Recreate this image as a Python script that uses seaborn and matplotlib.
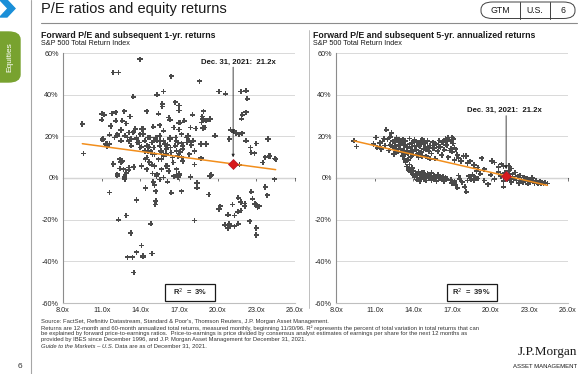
import matplotlib
matplotlib.use("Agg")
import matplotlib.pyplot as plt
import numpy as np
import pandas as pd
import seaborn as sns
from matplotlib.patches import FancyBboxPatch, Polygon, Rectangle
from matplotlib.lines import Line2D
from matplotlib.ticker import FuncFormatter

# ---- data (forward P/E, subsequent return %) ----
pe_1yr = [
    9.5, 9.6,
    11.0, 11.0, 11.2, 11.05, 11.1, 11.3, 11.4, 11.4, 11.6, 11.6, 11.7, 11.8, 12.1, 12.1,
    11.9, 11.9, 11.9, 12.3, 12.2, 12.0, 12.2, 12.2, 12.4, 12.2, 11.6, 12.3, 12.2, 12.4,
    12.5, 12.5, 12.5, 12.6, 12.6, 12.7, 12.75, 12.75, 12.8, 12.8, 12.9, 12.9, 12.9, 12.9,
    13.0, 13.0, 13.1, 13.1, 13.1, 13.1, 13.2, 13.25, 13.3, 13.3, 13.4, 13.45, 13.45, 13.5,
    13.5, 13.5, 13.6, 13.7, 13.7, 13.7, 13.7, 13.75, 13.9, 13.97,
    14.0, 14.0, 14.1, 14.1, 14.1, 14.1, 14.2, 14.2, 14.2, 14.2, 14.35, 14.35, 14.4, 14.4,
    14.5, 14.5, 14.5, 14.5, 14.6, 14.6, 14.65, 14.7, 14.75, 14.8, 14.8, 14.9, 14.9, 14.9,
    14.95, 14.95,
    15.0, 15.0, 15.05, 15.05, 15.1, 15.1, 15.1, 15.15, 15.2, 15.2, 15.2, 15.25, 15.3, 15.3,
    15.3, 15.4, 15.4, 15.5, 15.5, 15.5, 15.5, 15.55, 15.6, 15.65, 15.65, 15.65, 15.7, 15.7,
    15.8, 15.8, 15.8, 15.8, 15.8, 15.9,
    16.0, 16.0, 16.0, 16.1, 16.1, 16.1, 16.2, 16.2, 16.3, 16.3, 16.3, 16.35, 16.4, 16.4,
    16.4, 16.5, 16.55, 16.6, 16.6, 16.7, 16.7, 16.75, 16.8, 16.8, 16.8, 16.8, 16.9, 16.9, 16.9,
    17.0, 17.0, 17.0, 17.0, 17.0, 17.05, 17.1, 17.1, 17.2, 17.2, 17.2, 17.2, 17.3, 17.3,
    17.3, 17.4, 17.6, 17.6, 17.7, 17.8, 17.8, 17.9, 17.9, 17.95,
    18.05, 18.1, 18.2, 18.2, 18.2, 18.3, 18.4, 18.4, 18.6, 18.7, 18.7, 18.75, 18.8, 18.85,
    18.85, 18.9, 19.0, 19.1, 19.1, 19.3, 19.4, 19.4, 19.5, 19.8,
    20.1, 20.1, 20.2, 20.55, 20.6, 20.8, 20.8, 20.9, 20.9, 21.0, 21.0, 21.15, 21.25, 21.3,
    21.3, 21.4, 21.55, 21.6, 21.6, 21.65, 21.7, 21.8, 21.8, 21.8, 21.85, 21.9, 21.9,
    22.1, 22.1, 22.2, 22.2, 22.2, 22.3, 22.5, 22.55, 22.6, 22.6, 22.7, 22.85, 22.9, 23.0,
    23.0, 23.0, 23.0, 23.1, 23.2, 23.5, 23.7, 23.7, 23.85, 23.9, 24.0, 24.05, 24.4, 24.45, 24.5,
]
ret_1yr = [
    25.9, 11.7,
    30.8, 28.0, 30.4, 18.4, 18.7, 16.3, 15.2, 16.3, 16.3, 20.8, 25.0, 31.0, 31.6, 27.5,
    6.9, 6.6, 50.6, 50.6, 1.3, 19.5, 20.3, 21.0, 9.0, 1.8, -6.9, -20.0, 1.1, 4.5,
    23.0, 17.9, 7.7, 8.2, 27.5, 4.2, 32.0, 0.5, -0.5, 20.3, 26.2, 2.6, 2.3, -18.0,
    19.5, -38.0, 17.6, 4.0, 5.0, 21.9, 29.5, -26.4, 15.5, 18.7, -38.0, 39.0, 21.9, 5.3,
    22.2, -45.4, 23.5, 18.7, 19.5, -35.6, -10.6, 17.0, 17.0, 57.0,
    21.0, 14.6, 15.0, 23.5, 5.8, -32.4, -37.3, -37.8, 23.5, 21.1, 17.9, 13.0, 9.0, -4.8,
    32.0, 9.8, 15.5, 4.2, 19.5, 13.0, 15.0, 7.7, 19.5, 12.8, -22.0, 6.3, 17.0, -36.2,
    11.4, 2.1,
    24.6, -1.9, 17.9, 14.6, 11.4, 5.8, -3.5, -12.7, 19.5, -11.0, -6.4, 1.0, 40.0, 17.9,
    1.8, 30.8, 9.0, 25.3, 20.3, 15.5, -0.7, 17.9, 13.0, 9.0, 12.2, 4.2, 35.6, 34.3,
    41.5, 22.7, 10.6, 17.9, 0.3, 16.3,
    11.4, 5.8, 13.9, 5.8, -1.8, 15.8, 29.0, 3.4, 28.0, 19.5, 18.7, 14.7, 48.8, -7.1,
    12.2, 9.8, 7.4, 24.3, 0.8, 36.4, 15.5, 19.5, 17.9, 13.0, 4.2, 1.5, 10.6, 17.0, 0.2,
    34.8, 32.4, 26.5, 23.3, 2.0, 1.2, 26.7, 12.5, 21.0, 16.7, -6.3, 10.0, 15.5, 8.2,
    14.0, 27.5, 19.5, 17.0, 20.3, 11.4, 17.9, 24.3, 0.5, 15.8,
    30.4, 17.9, 13.0, 6.5, -20.4, 23.8, -4.7, -2.3, 46.5, 9.5, 16.3, 26.7, 29.5, 24.0,
    28.3, 32.0, 24.3, 27.5, 16.3, -7.9, 1.0, 28.3, 1.4, 20.3,
    41.5, -15.0, -13.5, -22.4, 40.4, -17.6, -24.0, -22.0, 18.7, -23.0, 23.2, -12.7, 22.2, -23.2,
    -18.0, 21.6, -16.2, -9.5, -22.0, 21.0, 6.3, 41.5, -15.6, -11.5, 28.4, 30.3, 21.5,
    -12.3, -13.5, 41.9, 31.6, 17.9, 38.0, -20.8, 14.7, -6.6, 12.3, -10.0, 11.9, -12.5, 16.6,
    -13.0, -24.0, -27.4, -14.0, -13.5, 7.4, 10.0, -4.3, -8.3, 18.7, 10.6, 10.6, -0.6, 9.3, 9.0,
]

pe_5yr = [
    9.4, 9.6, 10.9, 11.1, 11.2, 11.4, 11.5, 11.6, 11.7, 11.8, 11.9, 12.0, 12.1, 12.2, 12.2,
    12.3, 12.4, 12.4, 12.5, 12.6, 12.6, 12.7, 12.7, 12.8, 12.9, 12.9,
    13.0, 13.0, 13.1, 13.1, 13.2, 13.2, 13.3, 13.3, 13.4, 13.4, 13.5, 13.5, 13.6, 13.6,
    13.7, 13.7, 13.8, 13.8, 13.9, 13.9, 14.0, 14.0, 14.1, 14.1, 14.2, 14.3, 14.3, 14.4,
    14.4, 14.5, 14.5, 14.6, 14.6, 14.7, 14.7, 14.8, 14.8, 14.9, 15.0, 15.0, 15.1, 15.1,
    15.2, 15.3, 15.3, 15.4, 15.5, 15.5, 15.6, 15.7, 15.7, 15.8, 15.9, 16.0, 16.0, 16.1,
    16.2, 16.2, 16.3, 16.4, 16.5, 16.5, 16.6, 16.6, 16.7, 16.7, 16.8, 16.8, 16.9, 16.9,
    17.0, 17.0, 17.1, 17.1, 17.2, 17.2, 17.3,
    17.4, 17.5, 17.7, 17.9, 18.1, 18.2, 18.4, 18.7, 19.3, 19.5, 20.1, 20.3, 20.6, 20.85,
    21.0, 21.4, 21.6, 19.0, 18.9,
    13.5, 13.6, 13.7, 13.8, 13.9, 13.4, 13.3,
    14.0, 14.0, 14.1, 14.2, 14.3, 14.3, 14.4, 14.5, 14.5, 14.6, 14.7, 14.7, 14.8, 14.8,
    14.9, 15.0, 15.0, 15.1, 15.2, 15.2, 15.3, 15.4, 15.4, 15.5, 15.6, 15.6, 15.7, 15.8,
    15.8, 15.9, 16.0, 16.1, 16.2, 16.3, 16.4, 16.5, 16.6,
    16.9, 17.0, 17.2, 17.3, 17.4, 17.5, 17.6, 17.8, 18.0, 18.1, 18.2, 18.3, 18.5, 18.6,
    18.7, 18.8, 19.0, 19.2, 19.5, 19.8, 20.0, 20.3,
    20.6, 20.8, 21.0, 21.0, 21.1, 21.3, 21.4, 21.5, 21.6, 21.7, 21.8, 21.9, 22.0, 22.1,
    22.2, 22.3, 22.4, 22.5, 22.6, 22.7, 22.8, 22.9, 23.0, 23.1, 23.2, 23.3, 23.4, 23.5,
    23.6, 23.7, 23.8, 23.9, 24.0, 24.1, 24.2, 24.4,
]
ret_5yr = [
    17.9, 15.1, 16.3, 19.5, 14.5, 16.8, 13.9, 17.5, 19.0, 15.6, 23.2, 18.6, 13.2, 16.0, 19.8,
    21.6, 14.8, 17.6, 11.5, 17.3, 14.0, 15.2, 19.2, 12.6, 18.4, 15.8,
    14.0, 16.9, 16.5, 12.2, 10.6, 18.6, 13.2, 15.8, 17.8, 11.6, 15.0, 13.2, 12.0, 8.8,
    18.9, 16.2, 14.3, 10.2, 16.7, 12.8, 11.2, 17.6, 18.2, 15.2, 13.6, 17.0, 11.4, 9.8,
    15.6, 15.4, 12.0, 12.4, 17.6, 18.6, 10.6, 14.0, 16.2, 16.8, 10.4, 13.6, 17.9, 15.0,
    13.0, 15.6, 9.2, 11.8, 17.2, 14.2, 14.4, 9.2, 16.6, 16.2, 12.8, 18.0, 15.0, 14.9,
    11.0, 17.0, 17.4, 13.6, 19.0, 16.0, 15.8, 18.4, 10.0, 19.4, 18.4, 13.2, 14.2, 17.6,
    19.5, 12.6, 16.6, 18.8, 8.6, 14.6, 13.8,
    11.2, 9.6, 8.2, 10.6, 10.6, 7.1, 8.0, 6.2, 9.5, 4.2, 8.2, 7.4, 5.4, 6.6,
    5.8, 6.0, 4.6, 5.0, 3.2,
    5.5, 4.0, 6.5, 2.8, 4.8, 7.6, 9.0,
    1.5, 3.5, 0.5, 2.2, -0.8, 1.2, 3.0, 0.0, -1.6, 1.8, 0.6, 2.8, -0.5, 2.6,
    1.0, -1.2, 0.3, 2.0, -0.3, 1.4, 0.6, -1.0, 2.4, 0.2, 1.2, -0.6, 0.8, -1.4,
    0.4, 1.6, -0.2, 0.9, -0.8, 0.5, -1.5, 0.2, -0.4,
    -0.8, -2.5, -1.5, -3.2, -4.7, 1.2, -0.5, -2.0, -4.2, -6.6, -1.2, 0.8, -0.5, 1.5,
    -1.0, 0.4, -0.2, 2.0, -1.2, -3.0, 1.5, -0.5,
    3.0, 1.0, -1.4, -4.2, 2.5, -0.8, 3.4, 0.5, -2.0, 1.8, -0.4, 2.6, -1.2, 0.8,
    -2.4, 1.2, -0.8, -2.0, 0.4, -1.6, -0.2, -2.8, -1.0, -2.2, 0.0, -1.8, -2.6, -1.2,
    -2.0, -2.8, -1.6, -2.4, -2.0, -2.8, -2.2, -2.6,
]

current_pe = 21.2
r2_1yr = 3
r2_5yr = 39
x_ticks = [8, 11, 14, 17, 20, 23, 26]
y_ticks = [-60, -40, -20, 0, 20, 40, 60]

W, H = 581, 374
sns.set_theme(style="white")
plt.rcParams["font.family"] = ["Liberation Sans", "DejaVu Sans"]

fig = plt.figure(figsize=(W / 100, H / 100), dpi=100)
fig.patch.set_facecolor("white")


def fx(x):
    return x / W


def fy(y):
    return 1 - y / H


def draw_panel(ax, pe, ret, r2, label_xy, box_x0):
    df = pd.DataFrame({"pe": pe, "ret": ret})
    ax.set_xlim(8, 26)
    ax.set_ylim(-60, 60)
    ax.set_xticks(x_ticks)
    ax.set_yticks(y_ticks)
    ax.xaxis.set_major_formatter(FuncFormatter(lambda v, _: f"{v:.1f}x"))
    ax.yaxis.set_major_formatter(FuncFormatter(lambda v, _: f"{v:.0f}%"))
    ax.tick_params(length=0, labelsize=5.2, labelcolor="#262626", pad=3)
    ax.grid(axis="y", color="#d9d9d9", lw=0.7)
    ax.set_axisbelow(True)
    for s in ("top", "right"):
        ax.spines[s].set_visible(False)
    ax.spines["left"].set_color("#8c8c8c")
    ax.spines["left"].set_linewidth(0.8)
    ax.spines["bottom"].set_color("#bfbfbf")
    ax.spines["bottom"].set_linewidth(0.8)

    # zero line with its own small ticks
    zero = ax.secondary_xaxis(0.5)
    zero.set_xticks(x_ticks)
    zero.tick_params(length=2, width=0.6, direction="in", color="#595959",
                     labeltop=False, labelbottom=False)
    zero.spines["top"].set_color("#595959")
    zero.spines["top"].set_linewidth(0.8)

    sns.scatterplot(data=df, x="pe", y="ret", ax=ax, marker="P", s=14,
                    color="#4a4a4a", edgecolor="none", linewidth=0, zorder=3)
    sns.regplot(data=df, x="pe", y="ret", ax=ax, scatter=False, ci=None,
                truncate=True, line_kws=dict(color="#f28e1c", lw=1.1, zorder=4))
    ax.set_xlabel("")
    ax.set_ylabel("")

    slope, icpt = np.polyfit(pe, ret, 1)
    now = slope * current_pe + icpt
    ax.scatter([current_pe], [now], marker="D", s=26, color="#d7191c",
               edgecolor="#b2182b", linewidth=0.5, zorder=6)
    tx, ty = label_xy
    ax.text(tx, ty, f"Dec. 31, 2021:  {current_pe}x", ha="center", va="center",
            fontsize=5.6, fontweight="bold", color="#1a1a1a")
    ax.annotate("", xy=(current_pe, now + 3.2), xytext=(current_pe, ty - 2.5),
                arrowprops=dict(arrowstyle="-|>", color="#262626", lw=0.6,
                                mutation_scale=4, shrinkA=0, shrinkB=0))

    ax.add_patch(Rectangle((box_x0, 0.008), 0.215, 0.068, transform=ax.transAxes,
                           facecolor="white", edgecolor="#1a1a1a", lw=0.9, zorder=7))
    ax.text(box_x0 + 0.1075, 0.042, f"R$^2$  =  {r2}%", transform=ax.transAxes,
            ha="center", va="center", fontsize=5.4, fontweight="bold", zorder=8)


ax1 = fig.add_axes([fx(63), fy(303), 232 / W, 250 / H])
ax2 = fig.add_axes([fx(336), fy(303), 232 / W, 250 / H])
draw_panel(ax1, pe_1yr, ret_1yr, r2_1yr, (21.6, 55.7), 0.44)
draw_panel(ax2, pe_5yr, ret_5yr, r2_5yr, (21.1, 32.4), 0.477)

# ---- page furniture ----
fig.add_artist(Polygon([(fx(0), fy(0)), (fx(7), fy(0)), (fx(15), fy(8.5)), (fx(7), fy(17)),
                        (fx(0), fy(17)), (fx(8), fy(8.5))], closed=True,
                       transform=fig.transFigure, color="#1a8fd8"))
fig.add_artist(FancyBboxPatch((fx(-12), fy(82)), (32) / W, 50 / H,
                              boxstyle="round,pad=0,rounding_size=0.02",
                              transform=fig.transFigure, color="#78a22f"))
fig.text(fx(10), fy(57), "Equities", rotation=90, ha="center", va="center",
         fontsize=6, color="white")
fig.add_artist(Line2D([fx(31), fx(31)], [0, 1], color="#a6a6a6", lw=0.8))
fig.text(fx(20), fy(367), "6", ha="center", va="center", fontsize=6, color="#333333")

fig.text(fx(41), fy(9), "P/E ratios and equity returns", ha="left", va="center",
         fontsize=10.5, color="#1a1a1a")
fig.add_artist(Line2D([fx(41), fx(577)], [fy(23.3), fy(23.3)], color="#8c8c8c", lw=0.8))

fig.add_artist(FancyBboxPatch((fx(481), fy(18.5)), 94 / W, 16.5 / H,
                              boxstyle="round,pad=0,rounding_size=0.02",
                              transform=fig.transFigure, facecolor="white",
                              edgecolor="#404040", lw=0.7))
for xd in (519.5, 550):
    fig.add_artist(Line2D([fx(xd), fx(xd)], [fy(2), fy(18.5)], color="#404040", lw=0.7))
for xt, lab in ((500, "GTM"), (535, "U.S."), (563, "6")):
    fig.text(fx(xt), fy(10.5), lab, ha="center", va="center", fontsize=6.3, color="#1a1a1a")

fig.add_artist(Line2D([fx(309), fx(309)], [fy(30), fy(308)], color="#bfbfbf", lw=0.7))

for x0, t in ((41, "Forward P/E and subsequent 1-yr. returns"),
              (313, "Forward P/E and subsequent 5-yr. annualized returns")):
    fig.text(fx(x0), fy(35), t, ha="left", va="center", fontsize=6.3,
             fontweight="bold", color="#1a1a1a")
    fig.text(fx(x0), fy(43.5), "S&P 500 Total Return Index", ha="left", va="center",
             fontsize=5.2, color="#1a1a1a")

foot = [
    "Source: FactSet, Refinitiv Datastream, Standard & Poor's, Thomson Reuters, J.P. Morgan Asset Management.",
    "Returns are 12-month and 60-month annualized total returns, measured monthly, beginning 11/30/96. R\u00b2 represents the percent of total variation in total returns that can",
    "be explained by forward price-to-earnings ratios.  Price-to-earnings is price divided by consensus analyst estimates of earnings per share for the next 12 months as",
    "provided by IBES since December 1996, and J.P. Morgan Asset Management for December 31, 2021.",
]
foot_fs = 4.2
foot_y0, foot_dy = 322, 6.0
for i, line in enumerate(foot):
    fig.text(fx(41), fy(foot_y0 + foot_dy * i), line, ha="left", va="center",
             fontsize=foot_fs, color="#333333")
guide = fig.text(fx(41), fy(foot_y0 + foot_dy * 4), "Guide to the Markets \u2013 U.S.",
                 ha="left", va="center", fontsize=foot_fs, color="#333333", style="italic")
fig.canvas.draw()
gx = guide.get_window_extent().x1 / fig.bbox.width
fig.text(gx + 1.5 / W, fy(foot_y0 + foot_dy * 4), "Data are as of December 31, 2021.",
         ha="left", va="center", fontsize=foot_fs, color="#333333")

fig.text(fx(577), fy(352), "J.P.Morgan", ha="right", va="center", fontsize=9.5,
         family=["Liberation Serif", "DejaVu Serif"], color="#1a1a1a")
fig.text(fx(577), fy(366), "ASSET MANAGEMENT", ha="right", va="center", fontsize=4.3,
         color="#1a1a1a")

fig.savefig("out.png", dpi=100)
